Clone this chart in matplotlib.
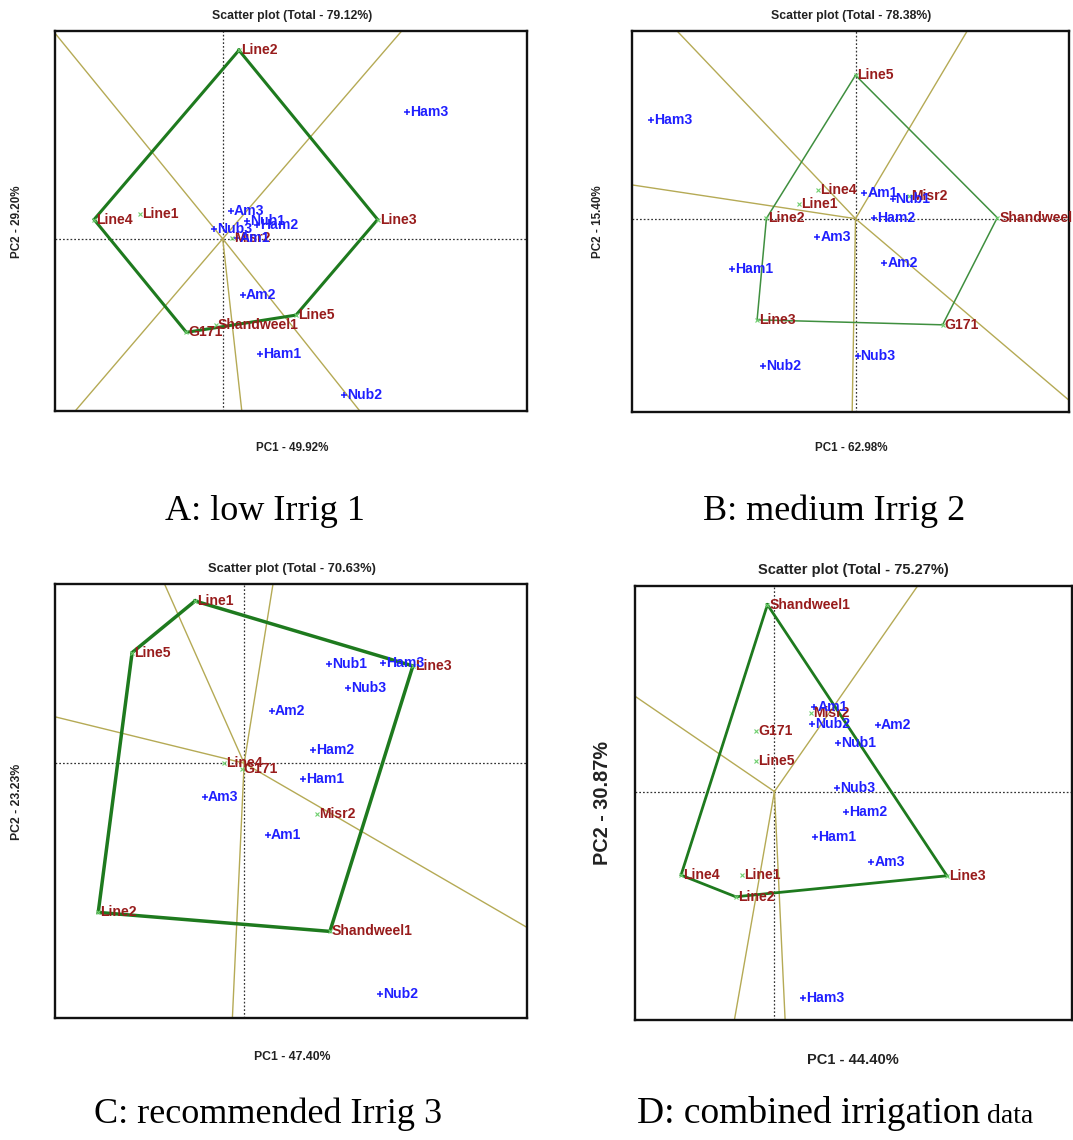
import matplotlib
matplotlib.use("Agg")
import matplotlib.pyplot as plt
from matplotlib import font_manager as fm

W, H, DPI = 1073, 1140, 100

avail = {f.name for f in fm.fontManager.ttflist}
NARROW = 'Liberation Sans Narrow' in avail
SANS = ['Liberation Sans Narrow', 'Liberation Sans', 'DejaVu Sans'] if NARROW else ['Liberation Sans', 'DejaVu Sans']
FS = 1.0 if NARROW else 0.84
SERIF = ['Liberation Serif', 'DejaVu Serif']

GEN_COLOR = '#981c1c'
ENV_COLOR = '#1f1fff'
RAY_COLOR = '#b5aa55'
MARK_COLOR = '#6fcf6f'

# ---------------- Panel A : low Irrig 1 ----------------
A_title = "Scatter plot (Total - 79.12%)"
A_xlabel = "PC1 - 49.92%"
A_ylabel = "PC2 - 29.20%"
A_caption = "A: low Irrig 1"
A_xlim = [-4.85, 8.80]
A_ylim = [-5.19, 6.26]
A_gen = ["Line2", "Line4", "Line1", "Line3", "Line5", "G171", "Shandweel1", "Misr2"]
A_gen_x = [0.47, -3.72, -2.40, 4.48, 2.12, -1.05, -0.20, 0.27]
A_gen_y = [5.68, 0.58, 0.75, 0.58, -2.30, -2.82, -2.59, 0.02]
A_env = ["Ham3", "Am3", "Nub1", "Ham2", "Nub3", "Am1", "Am2", "Ham1", "Nub2"]
A_env_x = [5.33, 0.23, 0.70, 1.00, -0.25, 0.40, 0.58, 1.07, 3.52]
A_env_y = [3.83, 0.83, 0.53, 0.40, 0.28, 0.02, -1.68, -3.48, -4.70]
A_hull = ["Line2", "Line3", "Line5", "G171", "Line4"]
A_ray_x = [-4.80, 3.95, 5.15, -4.25, 0.55]
A_ray_y = [6.13, -5.17, 6.23, -5.17, -5.17]

# ---------------- Panel B : medium Irrig 2 ----------------
B_title = "Scatter plot (Total - 78.38%)"
B_xlabel = "PC1 - 62.98%"
B_ylabel = "PC2 - 15.40%"
B_caption = "B: medium Irrig 2"
B_xlim = [-6.70, 6.40]
B_ylim = [-5.81, 5.64]
B_gen = ["Line5", "Line4", "Line1", "Line2", "Line3", "G171", "Shandweel1", "Misr2"]
B_gen_x = [0.00, -1.12, -1.69, -2.67, -2.95, 2.61, 4.25, 1.61]
B_gen_y = [4.31, 0.86, 0.44, 0.01, -3.04, -3.19, 0.03, 0.68]
B_env = ["Ham3", "Am1", "Nub1", "Ham2", "Am3", "Am2", "Ham1", "Nub2", "Nub3"]
B_env_x = [-6.12, 0.26, 1.11, 0.56, -1.15, 0.86, -3.69, -2.77, 0.06]
B_env_y = [2.96, 0.78, 0.58, 0.01, -0.56, -1.34, -1.50, -4.44, -4.14]
B_hull = ["Line5", "Shandweel1", "G171", "Line3", "Line2"]
B_ray_x = [-5.32, 6.38, 3.33, -6.67, -0.10]
B_ray_y = [5.61, -5.44, 5.61, 1.01, -5.81]

# ---------------- Panel C : recommended Irrig 3 ----------------
C_title = "Scatter plot (Total - 70.63%)"
C_xlabel = "PC1 - 47.40%"
C_ylabel = "PC2 - 23.23%"
C_caption = "C: recommended Irrig 3"
C_xlim = [-5.47, 8.18]
C_ylim = [-7.65, 5.38]
C_gen = ["Line1", "Line5", "Line3", "Line4", "G171", "Misr2", "Line2", "Shandweel1"]
C_gen_x = [-1.42, -3.24, 4.88, -0.59, -0.07, 2.11, -4.22, 2.48]
C_gen_y = [4.87, 3.32, 2.92, 0.00, -0.18, -1.52, -4.48, -5.05]
C_env = ["Nub1", "Ham3", "Nub3", "Am2", "Ham2", "Ham1", "Am3", "Am1", "Nub2"]
C_env_x = [2.45, 4.01, 3.01, 0.80, 1.98, 1.70, -1.14, 0.68, 3.93]
C_env_y = [2.98, 3.00, 2.27, 1.58, 0.40, -0.47, -1.00, -2.15, -6.93]
C_hull = ["Line1", "Line3", "Shandweel1", "Line2", "Line5"]
C_ray_x = [-2.29, 0.83, -5.42, 8.18, -0.34]
C_ray_y = [5.35, 5.35, 1.38, -4.93, -7.65]

# ---------------- Panel D : combined irrigation data ----------------
D_title = "Scatter plot (Total - 75.27%)"
D_xlabel = "PC1 - 44.40%"
D_ylabel = "PC2 - 30.87%"
D_caption = "D: combined irrigation"
D_caption_tail = "data"
D_xlim = [-4.18, 8.92]
D_ylim = [-6.86, 6.17]
D_gen = ["Shandweel1", "Misr2", "G171", "Line5", "Line4", "Line1", "Line2", "Line3"]
D_gen_x = [-0.21, 1.10, -0.55, -0.55, -2.80, -0.98, -1.16, 5.17]
D_gen_y = [5.61, 2.36, 1.81, 0.91, -2.51, -2.51, -3.16, -2.53]
D_env = ["Am1", "Nub2", "Am2", "Nub1", "Nub3", "Ham2", "Ham1", "Am3", "Ham3"]
D_env_x = [1.19, 1.12, 3.09, 1.90, 1.87, 2.15, 1.22, 2.90, 0.85]
D_env_y = [2.54, 2.04, 1.99, 1.46, 0.12, -0.61, -1.36, -2.13, -6.21]
D_hull = ["Shandweel1", "Line3", "Line2", "Line4"]
D_ray_x = [4.27, -4.15, -1.20, 0.32]
D_ray_y = [6.14, 2.84, -6.86, -6.86]

fig = plt.figure(figsize=(W / DPI, H / DPI), dpi=DPI)


def px(x, y):
    return x / W, 1 - y / H


def draw_panel(box, xlim, ylim, gen, gx, gy, env, ex, ey, hull, rx, ry,
               poly_color, poly_lw, lab_fs):
    l, t, r, b = box
    ax = fig.add_axes([l / W, 1 - b / H, (r - l) / W, (b - t) / H])
    ax.set_xlim(xlim)
    ax.set_ylim(ylim)
    ax.set_xticks([])
    ax.set_yticks([])
    for s in ax.spines.values():
        s.set_linewidth(1.7)
        s.set_color('#111111')
    ax.axhline(0, color='#333333', lw=0.9, ls=(0, (1.4, 1.6)), zorder=1)
    ax.axvline(0, color='#333333', lw=0.9, ls=(0, (1.4, 1.6)), zorder=1)
    for x, y in zip(rx, ry):
        ax.plot([0, x * 3], [0, y * 3], color=RAY_COLOR, lw=1.0, zorder=2)
    hx = [gx[gen.index(n)] for n in hull]
    hy = [gy[gen.index(n)] for n in hull]
    ax.plot(hx + hx[:1], hy + hy[:1], color=poly_color, lw=poly_lw, zorder=3,
            solid_joinstyle='miter')
    ax.plot(gx, gy, 'x', color=MARK_COLOR, ms=3.2, mew=0.8, zorder=4)
    for n, x, y in zip(gen, gx, gy):
        ax.annotate(n, (x, y), xytext=(1.5, 0), textcoords='offset points',
                    va='center', ha='left', color=GEN_COLOR, fontsize=lab_fs * FS,
                    fontweight='bold', family=SANS, zorder=5, annotation_clip=False)
    ax.plot(ex, ey, '+', color=ENV_COLOR, ms=4.5, mew=1.1, zorder=4)
    for n, x, y in zip(env, ex, ey):
        ax.annotate(n, (x, y), xytext=(2.2, 0), textcoords='offset points',
                    va='center', ha='left', color=ENV_COLOR, fontsize=lab_fs * FS,
                    fontweight='bold', family=SANS, zorder=6, annotation_clip=False)
    return ax


def side_texts(title, tpos, tfs, xlabel, xpos, xfs, ylabel, ypos, yfs):
    fig.text(*px(*tpos), title, ha='center', va='center', fontsize=tfs * FS,
             fontweight='bold', family=SANS, color='#222222')
    fig.text(*px(*xpos), xlabel, ha='center', va='center', fontsize=xfs * FS,
             fontweight='bold', family=SANS, color='#222222')
    fig.text(*px(*ypos), ylabel, ha='center', va='center', fontsize=yfs * FS,
             fontweight='bold', family=SANS, color='#222222', rotation=90)


# Panel A
draw_panel((55, 31, 527, 411), A_xlim, A_ylim, A_gen, A_gen_x, A_gen_y,
           A_env, A_env_x, A_env_y, A_hull, A_ray_x, A_ray_y, '#1e7a1e', 2.2, 12)
side_texts(A_title, (292, 16), 10.5, A_xlabel, (292, 448), 10, A_ylabel, (17, 222), 10)
fig.text(*px(265, 520), A_caption, ha='center', va='baseline', fontsize=26, family=SERIF)

# Panel B
draw_panel((632, 31, 1069, 412), B_xlim, B_ylim, B_gen, B_gen_x, B_gen_y,
           B_env, B_env_x, B_env_y, B_hull, B_ray_x, B_ray_y, '#3f8f3f', 1.1, 12)
side_texts(B_title, (851, 16), 10.5, B_xlabel, (851, 448), 10, B_ylabel, (598, 222), 10)
fig.text(*px(834, 520), B_caption, ha='center', va='baseline', fontsize=26, family=SERIF)

# Panel C
draw_panel((55, 584, 527, 1018), C_xlim, C_ylim, C_gen, C_gen_x, C_gen_y,
           C_env, C_env_x, C_env_y, C_hull, C_ray_x, C_ray_y, '#1e7a1e', 2.5, 12)
side_texts(C_title, (292, 569), 11, C_xlabel, (292, 1057), 10.5, C_ylabel, (17, 802), 10.5)
fig.text(*px(268, 1123), C_caption, ha='center', va='baseline', fontsize=26, family=SERIF)

# Panel D
draw_panel((635, 586, 1072, 1020), D_xlim, D_ylim, D_gen, D_gen_x, D_gen_y,
           D_env, D_env_x, D_env_y, D_hull, D_ray_x, D_ray_y, '#1e7a1e', 2.0, 12)
side_texts(D_title, (853, 570), 12.5, D_xlabel, (853, 1060), 12.5, D_ylabel, (603, 803), 17)
cap = fig.text(*px(637, 1123), D_caption, ha='left', va='baseline', fontsize=27, family=SERIF)
fig.canvas.draw()
bb = cap.get_window_extent(renderer=fig.canvas.get_renderer())
fig.text((bb.x1 + 7) / W, 1 - 1123 / H, D_caption_tail, ha='left', va='baseline',
         fontsize=20, family=SERIF)

fig.savefig("out.png", dpi=DPI, facecolor='white')
